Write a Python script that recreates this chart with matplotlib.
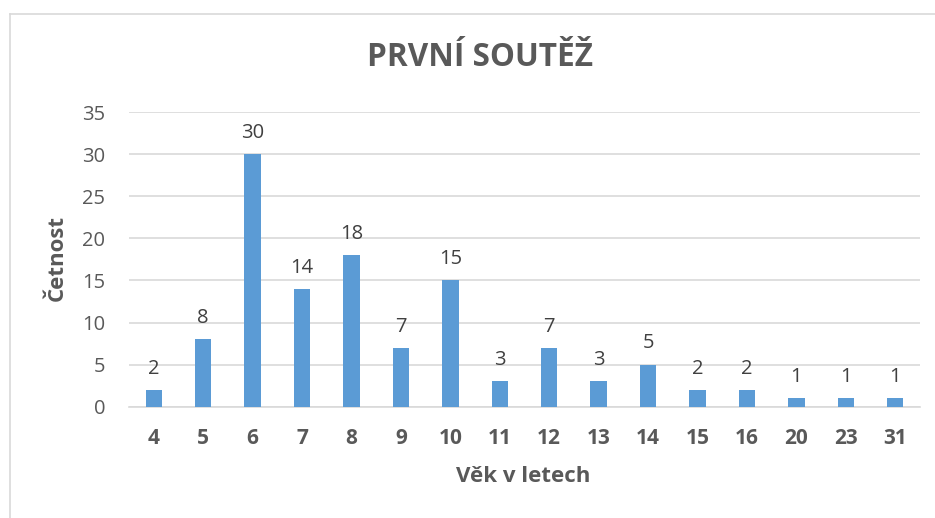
import matplotlib
matplotlib.use("Agg")
import matplotlib.pyplot as plt

categories = ["4", "5", "6", "7", "8", "9", "10", "11", "12", "13", "14", "15", "16", "20", "23", "31"]
values = [2, 8, 30, 14, 18, 7, 15, 3, 7, 3, 5, 2, 2, 1, 1, 1]
yticks = [0, 5, 10, 15, 20, 25, 30, 35]

title = "PRVNÍ SOUTĚŽ"
xlabel = "Věk v letech"
ylabel = "Četnost"

plt.rcParams['font.family'] = ['Open Sans', 'DejaVu Sans']
text_color = "#595959"
bar_color = "#5B9BD5"
grid_color = "#D9D9D9"

fig = plt.figure(figsize=(9.35, 5.18), dpi=100)
fig.patch.set_facecolor("white")

# outer chart border (left and top visible)
fig.add_artist(plt.Line2D([9.5/935, 9.5/935], [0, 1 - 14/518], color="#D9D9D9", lw=1.2, transform=fig.transFigure))
fig.add_artist(plt.Line2D([9.5/935, 1], [1 - 14/518, 1 - 14/518], color="#D9D9D9", lw=1.2, transform=fig.transFigure))

ax = fig.add_axes([129/935, 1 - 406.7/518, (920 - 129)/935, (406.7 - 112)/518])
x = list(range(len(categories)))
ax.bar(x, values, width=0.33, color=bar_color, zorder=3)
ax.set_xlim(-0.5, len(categories) - 0.5)
ax.set_ylim(0, 35)
ax.set_yticks(yticks)
ax.set_yticklabels([str(t) for t in yticks], fontsize=14.5, color=text_color)
ax.set_xticks(x)
ax.set_xticklabels(categories, fontsize=15, fontweight="bold", color=text_color)
ax.tick_params(axis="both", length=0)
ax.tick_params(axis="y", pad=17)
ax.tick_params(axis="x", pad=15)
ax.grid(axis="y", color=grid_color, lw=1.2, zorder=0)
for s in ["top", "right", "left"]:
    ax.spines[s].set_visible(False)
ax.spines["bottom"].set_color(grid_color)
ax.spines["bottom"].set_linewidth(1.2)

for xi, v in zip(x, values):
    ax.annotate(str(v), (xi, v), xytext=(0, 8), textcoords="offset points",
                ha="center", va="bottom", fontsize=14.5, color="#404040")

fig.text(480/935, 1 - 57/518, title, ha="center", va="center", fontsize=22.7,
         fontweight="bold", color=text_color)
fig.text(523/935, 1 - 476/518, xlabel, ha="center", va="center", fontsize=16,
         fontweight="bold", color=text_color)
fig.text(57/935, 1 - 258/518, ylabel, ha="center", va="center", fontsize=16,
         fontweight="bold", color=text_color, rotation=90)

fig.savefig("out.png", dpi=100, facecolor="white")
